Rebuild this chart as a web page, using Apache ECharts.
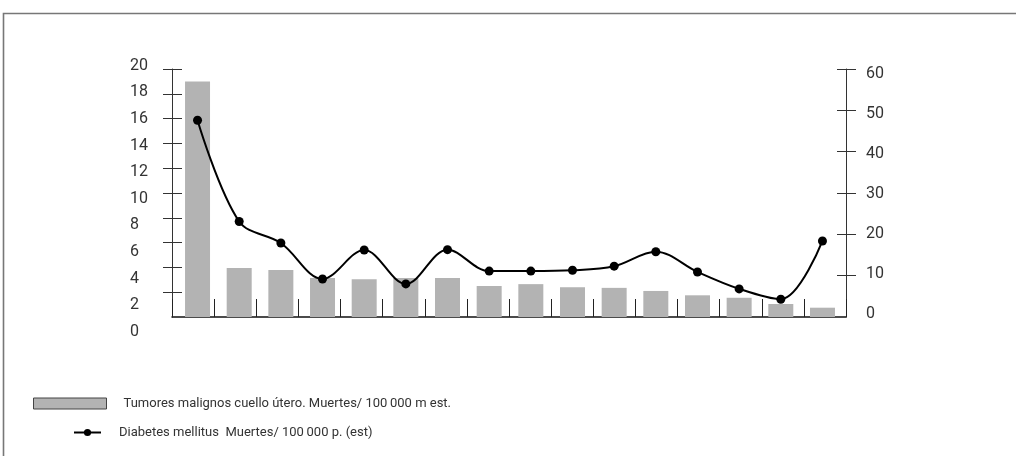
<!DOCTYPE html>
<html>
<head>
<meta charset="utf-8">
<script src="https://cdn.jsdelivr.net/npm/echarts@6/dist/echarts.min.js"></script>
<style>
html,body{margin:0;padding:0;background:#fff;}
#chart{width:1016px;height:456px;}
</style>
</head>
<body>
<div id="chart"></div>
<script>
// ---- data ----
var categories = ['1','2','3','4','5','6','7','8','9','10','11','12','13','14','15','16'];
var tumores = [19.0, 3.95, 3.8, 3.15, 3.05, 3.15, 3.15, 2.5, 2.65, 2.4, 2.35, 2.1, 1.75, 1.55, 1.05, 0.75];
var diabetes = [47.6, 23.1, 17.9, 9.2, 16.2, 8.0, 16.3, 11.1, 11.1, 11.3, 12.3, 15.8, 10.9, 6.8, 4.3, 18.4];
var leftTicks = [2, 4, 6, 8, 10, 12, 14, 16, 18, 20];
var rightTicks = [10, 20, 30, 40, 50, 60];
var nameTumores = 'Tumores malignos cuello útero. Muertes/ 100\u2009000 m est.';
var nameDiabetes = 'Diabetes mellitus  Muertes/ 100\u2009000 p. (est)';

var FONT = 'Roboto, "Open Sans", sans-serif';
var TXT = '#333';
var chart = echarts.init(document.getElementById('chart'), null, {renderer: 'canvas'});

function hiddenY(grid, min, max, pos) {
  return {type: 'value', gridIndex: grid, min: min, max: max, position: pos, show: false};
}

var option = {
  animation: false,
  backgroundColor: '#fff',
  textStyle: {fontFamily: FONT, color: TXT},
  graphic: [{
    type: 'rect', silent: true, z: -10,
    shape: {x: 3.5, y: 13.5, width: 1100, height: 600},
    style: {fill: 'none', stroke: '#777', lineWidth: 1.6}
  }],
  legend: [{
    data: [{name: nameTumores, itemStyle: {borderColor: '#444', borderWidth: 1}}],
    left: 33, top: 397, padding: 0,
    icon: 'rect', itemWidth: 73, itemHeight: 11,
    selectedMode: false,
    textStyle: {fontFamily: FONT, fontSize: 13, fontWeight: 400, color: TXT, padding: [0, 0, 0, 12]}
  }, {
    data: [nameDiabetes],
    left: 73, top: 426, padding: 0,
    itemWidth: 27, itemHeight: 9,
    selectedMode: false,
    textStyle: {fontFamily: FONT, fontSize: 13, fontWeight: 400, color: TXT, padding: [0, 0, 0, 13]}
  }],
  grid: [
    {left: 172, width: 674, top: 69, height: 248},        // axes
    {left: 176.7, width: 666.6, top: 69, height: 248},    // marks
    {left: 172, width: 674, top: 65.7, height: 266},      // left labels
    {left: 172, width: 674, top: 74, height: 239.5}       // right labels
  ],
  xAxis: [
    {type: 'category', gridIndex: 0, data: categories, boundaryGap: true,
     axisLine: {show: true, lineStyle: {color: '#111', width: 1.5}},
     axisTick: {show: true, inside: true, length: 18, interval: 0, lineStyle: {color: '#222', width: 1}},
     axisLabel: {show: false}, splitLine: {show: false}},
    {type: 'category', gridIndex: 1, data: categories, show: false},
    {type: 'category', gridIndex: 2, data: categories, show: false},
    {type: 'category', gridIndex: 3, data: categories, show: false}
  ],
  yAxis: [
    {type: 'value', gridIndex: 0, position: 'left', min: 0, max: 20, interval: 2,
     axisLine: {show: true, lineStyle: {color: '#333', width: 1}},
     axisTick: {show: true, length: 9, customValues: leftTicks, lineStyle: {color: '#333'}},
     axisLabel: {show: false}, splitLine: {show: false}},
    {type: 'value', gridIndex: 0, position: 'left', min: 0, max: 20, interval: 2,
     axisLine: {show: false},
     axisTick: {show: true, inside: true, length: 10, customValues: leftTicks, lineStyle: {color: '#333'}},
     axisLabel: {show: false}, splitLine: {show: false}},
    {type: 'value', gridIndex: 0, position: 'right', min: 0, max: 60, interval: 10,
     axisLine: {show: true, lineStyle: {color: '#333', width: 1}},
     axisTick: {show: true, length: 10, customValues: rightTicks, lineStyle: {color: '#333'}},
     axisLabel: {show: false}, splitLine: {show: false}},
    {type: 'value', gridIndex: 0, position: 'right', min: 0, max: 60, interval: 10,
     axisLine: {show: false},
     axisTick: {show: true, inside: true, length: 9, customValues: rightTicks, lineStyle: {color: '#333'}},
     axisLabel: {show: false}, splitLine: {show: false}},
    hiddenY(1, 0, 20, 'left'),
    hiddenY(1, 0, 60, 'right'),
    {type: 'value', gridIndex: 2, position: 'left', min: 0, max: 20, interval: 2,
     axisLine: {show: false}, axisTick: {show: false}, splitLine: {show: false},
     axisLabel: {show: true, align: 'left', margin: 42, fontSize: 16, fontWeight: 400, color: TXT, fontFamily: FONT}},
    {type: 'value', gridIndex: 3, position: 'right', min: 0, max: 60, interval: 10,
     axisLine: {show: false}, axisTick: {show: false}, splitLine: {show: false},
     axisLabel: {show: true, align: 'left', margin: 20, fontSize: 16, fontWeight: 400, color: TXT, fontFamily: FONT}}
  ],
  series: [
    {name: nameTumores, type: 'bar', xAxisIndex: 1, yAxisIndex: 4, data: tumores,
     barWidth: 25, itemStyle: {color: '#b3b3b3'}, z: 2},
    {name: nameDiabetes, type: 'line', xAxisIndex: 1, yAxisIndex: 5, data: diabetes,
     smooth: 0.35, symbol: 'circle', symbolSize: 9,
     lineStyle: {color: '#000', width: 2}, itemStyle: {color: '#000'}, z: 3}
  ]
};
chart.setOption(option);
</script>
</body>
</html>
